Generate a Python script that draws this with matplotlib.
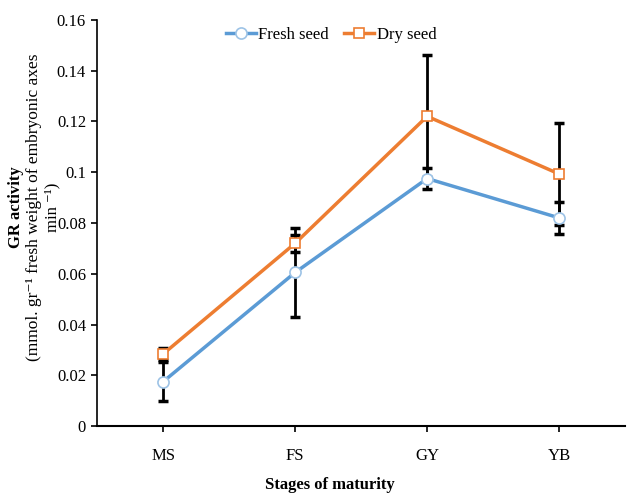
import matplotlib
matplotlib.use("Agg")
import matplotlib.pyplot as plt

# data
stages = ["MS", "FS", "GY", "YB"]
fresh = [0.0175, 0.0605, 0.0975, 0.082]
fresh_err = [0.0077, 0.0175, 0.0042, 0.0063]
dry = [0.0284, 0.072, 0.122, 0.0993]
dry_err = [0.0022, 0.0034, 0.024, 0.020]
yticks = [0, 0.02, 0.04, 0.06, 0.08, 0.1, 0.12, 0.14, 0.16]
ytick_labels = ["0", "0.02", "0.04", "0.06", "0.08", "0.1", "0.12", "0.14", "0.16"]

plt.rcParams["font.family"] = ["Liberation Serif", "DejaVu Serif"]

fig = plt.figure(figsize=(6.27, 4.96), dpi=100)
ax = fig.add_axes([0.155, 0.141, 0.842, 0.819])

x = list(range(len(stages)))

ax.errorbar(x, fresh, yerr=fresh_err, fmt="none", ecolor="black", elinewidth=2,
            capsize=3.5, capthick=2.5, zorder=2)
ax.errorbar(x, dry, yerr=dry_err, fmt="none", ecolor="black", elinewidth=2,
            capsize=3.5, capthick=2.5, zorder=2)

ax.plot(x, fresh, color="#5B9BD5", lw=2.5, marker="o", ms=8, mfc="white",
        mec="#9DC3E6", mew=1.2, label="Fresh seed", zorder=3)
ax.plot(x, dry, color="#ED7D31", lw=2.5, marker="s", ms=6.5, mfc="white",
        mec="#ED7D31", mew=1.2, label="Dry seed", zorder=4)

ax.set_xlim(-0.5, 3.5)
ax.set_ylim(0, 0.16)
ax.set_xticks(x)
ax.set_xticklabels(stages, fontsize=12)
ax.set_yticks(yticks)
ax.set_yticklabels(ytick_labels, fontsize=12)
ax.tick_params(axis="x", length=4, width=1.2, pad=12)
ax.tick_params(axis="y", length=4, width=1.2, pad=4)

for s in ["top", "right"]:
    ax.spines[s].set_visible(False)
ax.spines["left"].set_linewidth(1.2)
ax.spines["bottom"].set_linewidth(1.5)

ax.legend(loc="upper center", bbox_to_anchor=(0.443, 1.02), ncol=2, frameon=False,
          fontsize=12, handlelength=1.8, handletextpad=0.15, columnspacing=0.9)

ax.set_xlabel("Stages of maturity", fontsize=12, fontweight="bold")
ax.xaxis.set_label_coords(0.44, -0.125)

fig.text(0.026, 0.583, "GR activity", rotation=90, ha="center", va="center",
         fontsize=12, fontweight="bold")
fig.text(0.055, 0.583, "(mmol. gr\u207b\u00b9 fresh weight of embryonic axes", rotation=90,
         ha="center", va="center", fontsize=12.5)
fig.text(0.083, 0.583, "min \u207b\u00b9)", rotation=90, ha="center", va="center", fontsize=12)

fig.savefig("out.png", dpi=100)
